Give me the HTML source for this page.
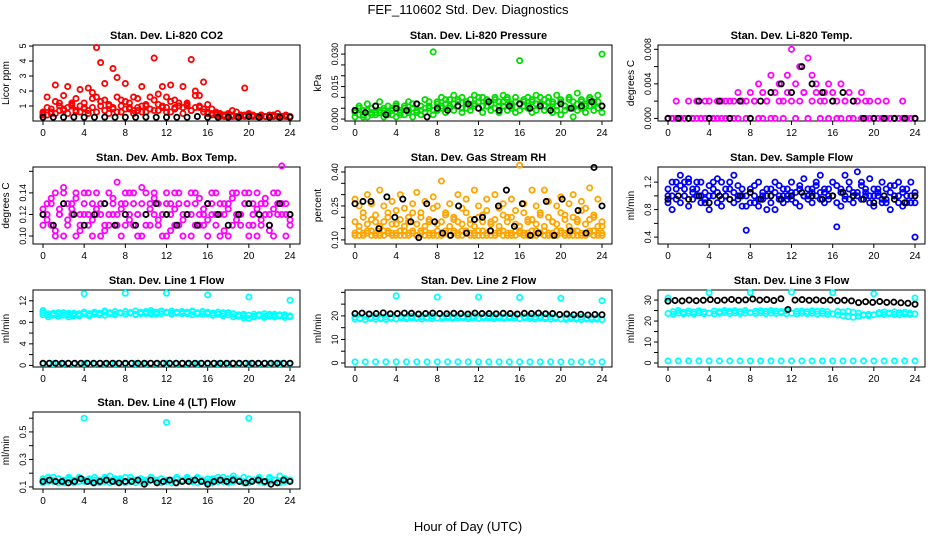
<!DOCTYPE html>
<html><head><meta charset="utf-8"><style>
body{margin:0;background:#fff}
svg{display:block;font-family:"Liberation Sans",sans-serif}
</style></head><body>
<svg id="chart" width="936" height="540" viewBox="0 0 936 540">
<text x="468" y="14" text-anchor="middle" font-size="13">FEF_110602  Std. Dev. Diagnostics</text>
<text x="468" y="531" text-anchor="middle" font-size="13">Hour of Day (UTC)</text>
</svg>
<script>
// ---- data ----
const xTicks=[0,4,8,12,16,20,24];
const co2Red=[0.5,1.6,0.6,2.4,1.2,0.8,2.3,1.0,0.7,2.1,0.9,2.2,1.5,4.9,3.9,2.5,1.0,3.5,2.9,1.4,2.5,0.8,1.6,0.7,2.3,1.1,1.6,4.2,1.8,2.3,0.9,2.4,1.4,1.0,2.3,1.2,4.1,2.0,1.7,2.6,1.1,0.8,0.6,0.5,0.4,0.5,0.7,0.6,0.4,2.2,0.5,0.4,0.3,0.4,0.3,0.4,0.3,0.5,0.3,0.4,0.3];
const co2RedLow=[0.6,0.4,0.8,0.5,1.0,0.7,0.9,1.2,0.6,1.0,0.8,0.5,0.9,1.6,1.3,0.7,1.1,0.9,0.6,1.0,0.8,1.2,0.7,0.9,0.6,1.0,0.8,0.7,1.1,0.9,0.6,1.3,0.8,1.0,0.9,1.1,0.7,0.9,1.0,0.8,0.6,0.5,0.4,0.4,0.3,0.4,0.3,0.3,0.3,0.4,0.3,0.3,0.3,0.3,0.3,0.3,0.3,0.3,0.3,0.3,0.3];
const co2RedMid=[0.4,0.9,0.5,1.3,0.7,1.7,0.5,1.1,1.5,0.6,1.2,0.7,1.9,0.6,1.0,1.4,0.5,0.8,1.6,0.6,1.3,0.9,0.5,1.5,1.0,0.6,0.8,1.4,0.7,1.0,1.6,0.6,0.9,1.2,0.5,1.0,0.7,1.7,0.9,0.6,0.5,0.4,0.5,0.3,0.4,0.3,0.4,0.3,0.4,0.3,0.4,0.3,0.3,0.4,0.3,0.3,0.4,0.3,0.3,0.3,0.3];
const co2Black=[0.25,0.25,0.25,0.26,0.25,0.25,0.26,0.25,0.25,0.25,0.26,0.25,0.25,0.25,0.25,0.3,0.25,0.25,0.25,0.25,0.3,0.25,0.25,0.25,0.25];
const presGreenA=[0.004,0.006,0.002,0.007,0.005,0.003,0.008,0.004,0.006,0.005,0.007,0.003,0.006,0.008,0.005,0.007,0.004,0.009,0.006,0.031,0.008,0.010,0.007,0.009,0.011,0.008,0.010,0.007,0.009,0.011,0.008,0.010,0.009,0.007,0.010,0.008,0.011,0.009,0.007,0.010,0.027,0.008,0.010,0.009,0.011,0.007,0.009,0.010,0.008,0.011,0.009,0.006,0.010,0.008,0.012,0.009,0.007,0.010,0.008,0.011,0.030];
const presGreenB=[0.001,0.002,0.004,0.001,0.003,0.002,0.004,0.001,0.003,0.002,0.001,0.004,0.002,0.003,0.001,0.004,0.002,0.003,0.005,0.002,0.004,0.006,0.003,0.005,0.004,0.006,0.003,0.005,0.004,0.006,0.005,0.003,0.006,0.004,0.005,0.003,0.006,0.004,0.005,0.003,0.004,0.006,0.005,0.003,0.004,0.006,0.004,0.005,0.003,0.006,0.002,0.004,0.005,0.001,0.004,0.005,0.003,0.006,0.004,0.005,0.003];
const presGreenC=[0.003,0.005,0.001,0.004,0.002,0.006,0.003,0.005,0.002,0.004,0.006,0.002,0.005,0.004,0.007,0.003,0.006,0.005,0.008,0.004,0.007,0.005,0.009,0.006,0.007,0.009,0.005,0.008,0.006,0.007,0.010,0.006,0.008,0.007,0.009,0.006,0.008,0.010,0.006,0.008,0.007,0.009,0.006,0.008,0.007,0.010,0.006,0.008,0.007,0.004,0.008,0.006,0.009,0.005,0.007,0.008,0.006,0.009,0.007,0.008,0.006];
const presBlack=[0.004,0.003,0.006,0.002,0.005,0.004,0.007,0.001,0.005,0.004,0.006,0.007,0.005,0.008,0.004,0.006,0.007,0.005,0.006,0.004,0.007,0.005,0.006,0.008,0.006];
const tempMagA=[0,0,0.002,0,0,0.002,0,0.002,0,0.002,0.002,0,0.002,0.002,0.002,0,0.002,0.003,0.002,0.002,0.003,0.002,0.004,0.003,0.002,0.005,0.003,0.004,0.002,0.005,0.008,0.004,0.006,0.003,0.007,0.005,0.004,0.002,0.003,0.004,0.003,0.002,0.004,0.002,0.003,0.002,0.002,0.003,0.002,0.002,0,0.002,0,0.002,0,0,0,0.002,0,0,0];
const tempMagB=[0,0,0,0,0,0,0,0,0,0,0,0,0,0,0,0.002,0,0,0.002,0,0,0.002,0,0,0.002,0,0,0.002,0,0.003,0.002,0,0.002,0.003,0,0.002,0.003,0,0.002,0,0.002,0,0,0.002,0,0,0.002,0,0,0,0,0,0,0,0,0,0,0,0,0,0];
const tempBlack=[0,0,0,0.002,0,0.002,0,0.002,0,0.002,0.003,0.004,0.003,0.006,0.004,0.003,0.002,0.003,0.002,0,0,0,0,0,0];
const ambMagA=[0.12,0.13,0.11,0.14,0.12,0.10,0.13,0.12,0.14,0.11,0.13,0.12,0.10,0.14,0.12,0.13,0.11,0.12,0.15,0.13,0.11,0.12,0.14,0.10,0.13,0.12,0.11,0.14,0.13,0.12,0.10,0.13,0.14,0.11,0.12,0.13,0.10,0.14,0.12,0.11,0.13,0.12,0.14,0.10,0.12,0.13,0.11,0.14,0.12,0.13,0.10,0.12,0.14,0.11,0.13,0.12,0.10,0.13,0.165,0.12,0.11];
const ambMagB=[0.11,0.12,0.13,0.10,0.12,0.14,0.11,0.13,0.10,0.12,0.14,0.11,0.13,0.12,0.10,0.11,0.14,0.13,0.12,0.10,0.13,0.14,0.11,0.12,0.10,0.14,0.13,0.12,0.11,0.10,0.14,0.12,0.11,0.13,0.10,0.12,0.14,0.13,0.11,0.12,0.10,0.13,0.11,0.12,0.13,0.10,0.14,0.12,0.11,0.13,0.14,0.11,0.10,0.13,0.12,0.11,0.14,0.12,0.13,0.10,0.12];
const ambMagC=[0.125,0.115,0.135,0.105,0.125,0.145,0.115,0.125,0.135,0.105,0.12,0.14,0.115,0.125,0.13,0.105,0.12,0.135,0.11,0.125,0.14,0.115,0.13,0.12,0.145,0.11,0.125,0.135,0.115,0.12,0.13,0.105,0.125,0.14,0.115,0.13,0.12,0.11,0.135,0.125,0.115,0.14,0.12,0.13,0.105,0.125,0.135,0.115,0.12,0.14,0.11,0.13,0.125,0.115,0.135,0.105,0.125,0.14,0.12,0.13,0.115];
const ambBlack=[0.12,0.11,0.13,0.12,0.11,0.12,0.13,0.11,0.12,0.11,0.12,0.13,0.12,0.11,0.12,0.11,0.13,0.12,0.11,0.12,0.13,0.12,0.11,0.13,0.12];
const rhA=[0.13,0.12,0.13,0.14,0.12,0.13,0.12,0.14,0.13,0.12,0.13,0.12,0.14,0.12,0.13,0.12,0.13,0.14,0.12,0.13,0.12,0.13,0.14,0.12,0.13,0.12,0.14,0.13,0.12,0.13,0.12,0.14,0.13,0.12,0.13,0.14,0.12,0.13,0.12,0.14,0.13,0.12,0.13,0.12,0.14,0.13,0.12,0.13,0.12,0.14,0.13,0.12,0.13,0.14,0.12,0.13,0.12,0.13,0.14,0.12,0.13];
const rhA2=[0.12,0.14,0.12,0.13,0.14,0.12,0.13,0.12,0.14,0.13,0.12,0.14,0.12,0.13,0.14,0.12,0.14,0.12,0.13,0.12,0.14,0.12,0.13,0.12,0.14,0.13,0.12,0.14,0.13,0.12,0.14,0.12,0.12,0.14,0.12,0.13,0.14,0.12,0.13,0.12,0.14,0.13,0.12,0.14,0.12,0.13,0.14,0.12,0.13,0.12,0.14,0.13,0.12,0.12,0.14,0.12,0.13,0.14,0.12,0.13,0.12];
const rhB=[0.28,0.25,0.20,0.30,0.26,0.18,0.32,0.25,0.22,0.27,0.17,0.30,0.24,0.20,0.26,0.31,0.22,0.27,0.18,0.29,0.25,0.36,0.22,0.26,0.19,0.30,0.24,0.28,0.17,0.32,0.25,0.21,0.28,0.18,0.30,0.24,0.26,0.20,0.28,0.23,0.43,0.26,0.19,0.32,0.25,0.22,0.32,0.27,0.18,0.25,0.29,0.21,0.26,0.30,0.19,0.27,0.24,0.33,0.20,0.28,0.16];
const rhC=[0.18,0.16,0.22,0.17,0.19,0.21,0.16,0.18,0.20,0.17,0.23,0.19,0.16,0.18,0.22,0.17,0.20,0.16,0.19,0.24,0.17,0.18,0.21,0.16,0.20,0.18,0.17,0.22,0.19,0.16,0.20,0.18,0.23,0.17,0.19,0.16,0.21,0.18,0.20,0.17,0.16,0.22,0.18,0.19,0.17,0.21,0.16,0.20,0.18,0.17,0.22,0.19,0.16,0.20,0.18,0.23,0.17,0.19,0.21,0.16,0.18];
const rhBlack=[0.26,0.27,0.27,0.15,0.29,0.20,0.28,0.18,0.11,0.26,0.18,0.13,0.12,0.25,0.13,0.19,0.20,0.14,0.25,0.32,0.16,0.26,0.12,0.13,0.27,0.12,0.28,0.14,0.23,0.13,0.42,0.25];
const flowBlueA=[1.0,1.2,1.1,1.3,1.2,1.25,1.1,1.2,1.0,0.9,1.15,1.2,1.25,1.2,1.1,1.2,1.3,1.15,1.0,0.85,1.1,0.9,1.2,1.0,0.8,1.1,1.2,0.95,1.1,1.0,1.2,0.9,1.1,1.25,1.0,1.1,1.2,1.3,1.1,1.0,1.2,0.55,1.1,1.3,1.2,1.0,1.35,1.2,1.1,1.25,1.0,1.1,1.2,0.9,1.15,1.0,1.2,1.1,0.9,1.2,0.4];
const flowBlueB=[0.9,0.8,0.95,0.9,1.0,0.85,0.95,1.0,0.9,0.95,0.8,1.0,0.9,0.85,1.0,0.95,0.9,1.0,0.85,0.5,0.9,1.0,0.85,0.95,1.0,0.9,0.8,1.0,0.9,0.95,1.05,0.9,0.85,1.0,0.95,0.9,1.0,1.05,0.9,0.95,1.0,0.9,0.85,1.0,0.95,0.9,1.05,0.95,1.0,0.9,0.85,1.0,0.9,0.95,0.8,1.0,0.9,0.85,1.0,0.9,0.9];
const flowBlueC=[1.1,1.0,1.2,1.15,1.1,1.2,1.05,1.1,1.2,1.05,1.0,1.1,1.05,0.95,1.0,1.1,1.05,0.95,1.1,1.0,1.05,1.15,0.95,1.05,1.1,1.0,1.05,1.15,1.0,1.1,0.95,1.05,1.15,1.0,1.1,1.05,1.15,0.95,1.05,1.1,1.0,1.15,1.05,0.95,1.1,1.05,1.0,1.15,1.05,1.0,1.1,1.05,0.95,1.1,1.05,1.15,1.0,1.05,1.1,1.0,1.05];
const flowBlack=[0.95,1.0,0.95,1.0,0.9,1.0,0.95,1.0,1.05,0.95,1.0,0.95,1.0,1.05,1.0,0.95,1.0,1.05,1.0,0.95,0.9,1.0,0.95,0.9,1.0];
const line1CyanA=[10.2,9.6,9.3,9.8,9.4,9.7,9.2,9.6,13.3,9.5,9.8,9.4,9.9,9.6,9.5,9.8,13.4,9.7,9.5,9.9,9.6,9.8,9.5,10.0,13.4,9.7,9.9,9.6,9.8,10.0,9.6,9.9,13.1,9.7,9.5,9.8,9.4,9.6,9.2,9.5,12.7,9.1,9.4,9.2,9.5,9.3,9.4,9.2,12.1];
const line1CyanB=[9.4,9.0,9.5,9.1,9.3,9.0,9.4,9.2,9.6,9.2,9.5,9.7,9.3,9.6,9.4,9.7,9.5,9.8,9.4,9.6,9.7,9.5,9.9,9.6,9.8,9.5,9.7,9.9,9.6,9.4,9.7,9.5,9.6,9.3,9.5,9.2,9.4,9.0,9.1,8.8,8.7,9.0,9.2,8.9,9.1,9.0,9.2,8.9,9.0];
const line1CyanC=[9.8,9.4,9.7,9.5,9.8,9.4,9.7,9.5,9.9,9.6,9.9,9.6,10.1,9.8,10.0,9.7,10.0,9.8,10.1,9.8,10.0,10.2,9.8,10.1,9.9,10.1,9.8,10.0,9.9,10.1,9.8,10.0,9.9,9.7,9.9,9.6,9.8,9.5,9.4,9.2,9.3,9.5,9.4,9.6,9.3,9.5,9.3,9.4,9.2];
const line1Low=[0.3,0.3,0.3,0.3,0.3,0.3,0.3,0.3,0.3,0.3,0.3,0.3,0.3,0.3,0.3,0.3,0.3,0.3,0.3,0.3,0.3,0.3,0.3,0.3,0.3];
const line1Black=[0.4,0.4,0.4,0.4,0.4,0.4,0.4,0.4,0.4,0.4,0.4,0.4,0.4,0.4,0.4,0.4,0.4,0.4,0.4,0.4,0.4,0.4,0.4,0.4,0.4,0.4,0.4,0.4,0.4,0.4,0.4,0.4,0.4,0.4,0.4,0.4,0.4,0.4,0.4,0.4];
const line2CyanA=[19.5,19.0,19.8,19.2,19.6,19.1,19.5,19.3,28.5,19.6,19.4,19.8,19.3,19.7,19.5,19.9,28.0,19.6,19.8,19.5,19.9,19.7,19.6,20.0,28.0,19.7,19.9,19.6,19.8,19.5,19.7,19.9,27.8,19.6,19.8,19.5,19.7,19.4,19.6,19.3,27.5,19.2,19.5,19.1,19.4,19.0,19.3,19.2,26.5];
const line2CyanB=[18.6,18.8,18.4,18.9,18.6,18.8,18.5,18.9,18.7,19.0,18.8,19.1,18.9,18.7,19.0,18.8,19.1,18.9,19.2,18.9,19.0,19.2,18.8,19.1,18.9,19.2,19.0,18.8,19.1,18.9,19.2,19.0,18.8,19.1,18.9,18.7,19.0,18.8,18.6,18.9,18.7,18.5,18.8,18.6,18.4,18.7,18.5,18.6,18.4];
const line2Low=[0.5,0.5,0.5,0.5,0.5,0.5,0.5,0.5,0.5,0.5,0.5,0.5,0.5,0.5,0.5,0.5,0.5,0.5,0.5,0.5,0.5,0.5,0.5,0.5,0.5];
const line2Black=[21.0,21.2,20.8,21.0,21.3,20.9,21.0,21.2,21.1,20.8,21.0,21.2,21.0,20.9,21.1,21.0,20.8,21.2,21.0,21.0,20.9,21.1,21.0,20.8,21.1,21.0,21.2,20.9,21.0,20.6,20.8,20.5,20.7,20.4,20.6,20.5];
const line3CyanA=[31.0,24.5,25.0,24.2,24.8,24.3,24.9,24.4,33.5,24.8,24.5,25.0,24.6,24.9,24.5,25.0,33.5,24.7,24.9,24.6,25.0,24.8,24.5,24.9,33.8,24.6,24.8,24.5,24.9,24.6,24.8,24.5,33.5,24.6,24.3,24.7,24.2,23.8,23.0,22.5,33.0,24.0,24.3,23.9,24.4,24.0,24.2,23.8,31.0];
const line3CyanB=[23.6,23.2,23.8,23.4,23.7,23.3,23.9,23.5,23.8,23.4,23.7,24.0,23.6,23.9,23.5,23.8,24.0,23.6,23.9,23.5,23.8,23.6,23.9,23.5,23.7,23.4,23.8,23.5,23.7,23.3,23.6,23.2,23.4,22.9,22.5,22.1,21.8,22.3,22.8,23.2,23.0,23.4,23.1,23.5,23.2,23.0,23.3,23.1,23.4];
const line3Low=[1.0,1.0,1.0,1.0,1.0,1.0,1.0,1.0,1.0,1.0,1.0,1.0,1.0,1.0,1.0,1.0,1.0,1.0,1.0,1.0,1.0,1.0,1.0,1.0,1.0];
const line3Black=[29.5,29.8,29.6,30.0,29.7,29.9,30.2,29.8,30.0,30.3,29.9,30.1,30.5,30.0,30.2,29.8,30.6,25.5,30.0,30.2,29.9,30.1,29.8,30.0,29.7,29.9,29.6,28.8,29.2,28.9,29.3,28.9,29.0,28.7,28.5,28.0];
const line4CyanA=[0.15,0.17,0.14,0.16,0.15,0.17,0.14,0.16,0.60,0.15,0.17,0.14,0.16,0.18,0.15,0.16,0.14,0.17,0.15,0.16,0.14,0.17,0.15,0.16,0.57,0.15,0.17,0.14,0.16,0.15,0.17,0.14,0.16,0.15,0.17,0.14,0.16,0.18,0.15,0.17,0.60,0.15,0.16,0.14,0.17,0.15,0.18,0.16,0.15];
const line4CyanB=[0.13,0.14,0.15,0.13,0.14,0.15,0.13,0.14,0.15,0.14,0.13,0.15,0.14,0.13,0.14,0.15,0.13,0.14,0.15,0.14,0.13,0.15,0.14,0.13,0.14,0.15,0.13,0.14,0.15,0.14,0.13,0.15,0.14,0.13,0.14,0.15,0.13,0.14,0.15,0.14,0.13,0.15,0.14,0.13,0.14,0.15,0.13,0.14,0.15];
const line4CyanC=[0.16,0.15,0.17,0.16,0.13,0.16,0.15,0.17,0.14,0.16,0.15,0.13,0.17,0.15,0.16,0.14,0.17,0.15,0.13,0.16,0.15,0.17,0.14,0.16,0.15,0.13,0.16,0.15,0.17,0.14,0.16,0.15,0.13,0.16,0.15,0.17,0.14,0.16,0.15,0.13,0.16,0.15,0.17,0.14,0.16,0.15,0.13,0.16,0.15];
const line4Black=[0.14,0.15,0.14,0.14,0.13,0.14,0.16,0.14,0.13,0.14,0.15,0.14,0.13,0.14,0.14,0.15,0.12,0.15,0.13,0.14,0.15,0.13,0.14,0.14,0.15,0.14,0.12,0.14,0.15,0.14,0.15,0.14,0.13,0.14,0.15,0.14,0.12,0.13,0.15,0.14];

const NS='http://www.w3.org/2000/svg';
const svg=document.getElementById('chart');
function mk(tag,attrs,parent){const e=document.createElementNS(NS,tag);for(const k in attrs)e.setAttribute(k,attrs[k]);(parent||svg).appendChild(e);return e;}
const cols=[[33,300],[345,612],[658,925]];
const rows=[[45,121],[167,244],[290,367],[412,489]];
const panels=[
 {c:0,r:0,title:'Stan. Dev. Li-820 CO2',ylab:'Licor ppm',dom:[0,5.07],ticks:[1,2,3,4,5],labels:[1,2,3,4,5],dec:0,series:[[co2Red,'#ff0000'],[co2RedLow,'#ff0000'],[co2RedMid,'#ff0000'],[co2Black,'#000']]},
 {c:1,r:0,title:'Stan. Dev. Li-820 Pressure',ylab:'kPa',dom:[-0.0009,0.0342],ticks:[0,0.005,0.01,0.015,0.02,0.025,0.03],labels:[0,0.015,0.03],dec:3,series:[[presGreenA,'#00dd00'],[presGreenB,'#00dd00'],[presGreenC,'#00dd00'],[presBlack,'#000']]},
 {c:2,r:0,title:'Stan. Dev. Li-820 Temp.',ylab:'degrees C',dom:[-0.0003,0.0085],ticks:[0,0.002,0.004,0.006,0.008],labels:[0,0.004,0.008],dec:3,series:[[tempMagA,'#ff00ff'],[tempMagB,'#ff00ff'],[tempBlack,'#000']]},
 {c:0,r:1,title:'Stan. Dev. Amb. Box Temp.',ylab:'degrees C',dom:[0.0926,0.164],ticks:[0.10,0.12,0.14,0.16],labels:[0.10,0.12,0.14],dec:2,series:[[ambMagA,'#ff00ff'],[ambMagB,'#ff00ff'],[ambMagC,'#ff00ff'],[ambBlack,'#000']]},
 {c:1,r:1,title:'Stan. Dev. Gas Stream RH',ylab:'percent',dom:[0.082,0.422],ticks:[0.10,0.15,0.20,0.25,0.30,0.35,0.40],labels:[0.10,0.25,0.40],dec:2,series:[[rhA,'#ffa500'],[rhA2,'#ffa500'],[rhC,'#ffa500'],[rhB,'#ffa500'],[rhBlack,'#000']]},
 {c:2,r:1,title:'Stan. Dev. Sample Flow',ylab:'ml/min',dom:[0.30,1.42],ticks:[0.4,0.6,0.8,1.0,1.2],labels:[0.4,0.8,1.2],dec:1,series:[[flowBlueA,'#0000ff'],[flowBlueB,'#0000ff'],[flowBlueC,'#0000ff'],[flowBlack,'#000']]},
 {c:0,r:2,title:'Stan. Dev. Line 1 Flow',ylab:'ml/min',dom:[-0.3,14],ticks:[0,2,4,6,8,10,12],labels:[0,4,8,12],dec:0,series:[[line1CyanA,'#00ffff'],[line1CyanB,'#00ffff'],[line1CyanC,'#00ffff'],[line1Low,'#00ffff'],[line1Black,'#000']]},
 {c:1,r:2,title:'Stan. Dev. Line 2 Flow',ylab:'ml/min',dom:[-1.7,31],ticks:[0,5,10,15,20,25,30],labels:[0,10,20],dec:0,series:[[line2CyanA,'#00ffff'],[line2CyanB,'#00ffff'],[line2Low,'#00ffff'],[line2Black,'#000']]},
 {c:2,r:2,title:'Stan. Dev. Line 3 Flow',ylab:'ml/min',dom:[-1.9,34.8],ticks:[0,5,10,15,20,25,30],labels:[0,10,20,30],dec:0,series:[[line3CyanA,'#00ffff'],[line3CyanB,'#00ffff'],[line3Low,'#00ffff'],[line3Black,'#000']]},
 {c:0,r:3,title:'Stan. Dev. Line 4 (LT) Flow',ylab:'ml/min',dom:[0.085,0.645],ticks:[0.1,0.2,0.3,0.4,0.5,0.6],labels:[0.1,0.3,0.5],dec:1,series:[[line4CyanA,'#00ffff'],[line4CyanB,'#00ffff'],[line4CyanC,'#00ffff'],[line4Black,'#000']]}
];
panels.forEach((p,pi)=>{
 const [L,R]=cols[p.c],[T,B]=rows[p.r];
 const xs=h=>L+10+h*(R-L-20)/24;
 const ys=v=>B-(v-p.dom[0])/(p.dom[1]-p.dom[0])*(B-T);
 const g=mk('g',{});
 
 
 const t=mk('text',{x:(L+R)/2,y:T-6,'text-anchor':'middle','font-size':11,'font-weight':'bold'},g);t.textContent=p.title;
 
 
 const yl=mk('text',{x:0,y:0,'text-anchor':'middle','font-size':10,transform:`translate(${L-24},${(T+B)/2}) rotate(-90)`},g);yl.textContent=p.ylab;
 
 
 const box=mk('rect',{x:L,y:T,width:R-L,height:B-T,fill:'none',stroke:'#000','stroke-width':1},g);
 
 
 xTicks.forEach(h=>{
  mk('line',{x1:xs(h),x2:xs(h),y1:B,y2:B+4,stroke:'#000'},g);
  const tx=mk('text',{x:xs(h),y:B+15,'text-anchor':'middle','font-size':10},g);tx.textContent=h;
  
  
 });
 mk('line',{x1:xs(0),x2:xs(24),y1:B,y2:B,stroke:'#000'},g);
 p.ticks.forEach(v=>{mk('line',{x1:L-4,x2:L,y1:ys(v),y2:ys(v),stroke:'#000'},g);});
 p.labels.forEach(v=>{
  const ty=mk('text',{x:0,y:0,'text-anchor':'middle','font-size':p.fs||9,transform:`translate(${L-7},${ys(v)}) rotate(-90)`},g);
  ty.textContent=v.toFixed(p.dec);
  
  
 });
 p.series.forEach(([arr,col],si)=>{
  const sg=mk('g',{fill:'none',stroke:col,'stroke-width':1.8},g);
  
  
  const n=arr.length;
  arr.forEach((v,i)=>{
   const c=mk('circle',{cx:xs(i*24/(n-1)),cy:ys(v),r:2.6},sg);
   
   
  });
 });
});
</script>
</body></html>
